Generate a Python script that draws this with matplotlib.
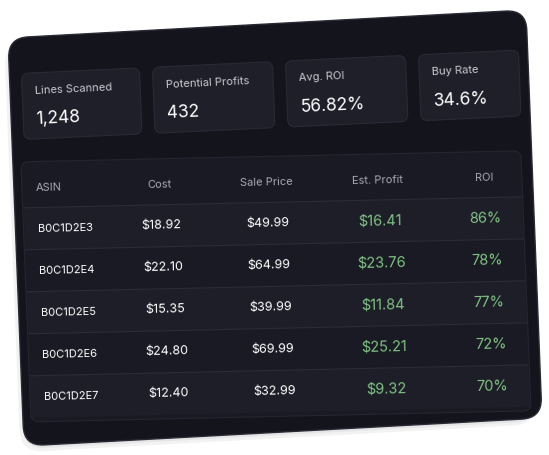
import matplotlib
matplotlib.use("Agg")
import matplotlib.pyplot as plt
import numpy as np
from matplotlib.patches import FancyBboxPatch
from matplotlib.transforms import Affine2D

stat_labels = ["Lines Scanned", "Potential Profits", "Avg. ROI", "Buy Rate"]
stat_values = ["1,248", "432", "56.82%", "34.6%"]
headers = ["ASIN", "Cost", "Sale Price", "Est. Profit", "ROI"]
asins = ["B0C1D2E3", "B0C1D2E4", "B0C1D2E5", "B0C1D2E6", "B0C1D2E7"]
costs = [18.92, 22.10, 15.35, 24.80, 12.40]
prices = [49.99, 64.99, 39.99, 69.99, 32.99]
profits = [16.41, 23.76, 11.84, 25.21, 9.32]
rois = [86, 78, 77, 72, 70]

fig = plt.figure(figsize=(5.49, 4.55), dpi=100)
ax = fig.add_axes([0, 0, 1, 1])
ax.set_xlim(0, 549); ax.set_ylim(455, 0); ax.axis("off")

TL = np.array([8, 38.]); TR = np.array([526, 10.]); BL = np.array([24, 446.])
W, H = 518.0, 408.0
ex0 = (TR - TL) / W; ey = (BL - TL) / H

def makeM(slope, anchor_y):
    M0 = np.array([[ex0[0], ey[0], TL[0]], [ex0[1], ey[1], TL[1]], [0, 0, 1]])
    ex = np.array([1.0, slope])
    target = M0[:2, :2] @ np.array([0, anchor_y]) + M0[:2, 2]
    A = np.array([[ex[0], ey[0]], [ex[1], ey[1]]])
    org = target - A @ np.array([0, anchor_y])
    return np.array([[A[0, 0], A[0, 1], org[0]], [A[1, 0], A[1, 1], org[1]], [0, 0, 1]])

Mcard = makeM(ex0[1], 0)
Mstat = makeM(-0.047, 70)
Mtab = makeM(-0.022, 250)

def box(M, x0, y0, x1, y1, fc, r=8, ec="none", lw=0, z=1, alpha=1):
    p = FancyBboxPatch((x0, y0), x1 - x0, y1 - y0, boxstyle=f"round,pad=0,rounding_size={r}",
                       fc=fc, ec=ec, lw=lw, transform=Affine2D(M) + ax.transData, zorder=z, alpha=alpha)
    ax.add_patch(p)

def txt(M, x, y, s, size, color, ha="left"):
    px, py = M[:2, :2] @ np.array([x, y]) + M[:2, 2]
    ang = np.degrees(np.arctan2(-M[1, 0], M[0, 0]))
    ax.text(px, py, s, fontsize=size, color=color, ha=ha, va="center",
            rotation=ang, rotation_mode="anchor", family="Inter", zorder=10)

for i, a in enumerate([0.05, 0.05, 0.06]):
    box(Mcard, -4 + 3 * i, 6 + 3 * i, W - 6, H + 6 - 3 * i, "#000000", r=22, z=0, alpha=a)
box(Mcard, 0, 0, W, H, "#14141d", r=20, ec="#2a2a36", lw=1, z=1)

xs = [(12, 130), (143, 263), (276, 396), (409, 509)]
for (x0, x1), lab, val in zip(xs, stat_labels, stat_values):
    box(Mstat, x0, 36, x1, 102, "#1f1f2a", r=7, ec="#2a2a36", lw=0.8, z=2)
    txt(Mstat, x0 + 13, 54, lab, 8, "#c8c8d0")
    txt(Mstat, x0 + 13, 83, val, 12.5, "#ffffff")

box(Mtab, 8, 124, 508, 384, "#1a1a24", r=8, ec="#262632", lw=0.8, z=2)
col_x = [22, 146, 252, 364, 470]
col_ha = ["left", "center", "center", "center", "center"]
for h, x, ha in zip(headers, col_x, col_ha):
    txt(Mtab, x, 150, h, 8, "#a8a8b4", ha=ha)
row_top = 170
rh = 42
for i in range(len(asins)):
    y0 = row_top + i * rh
    box(Mtab, 9, y0, 507, y0 + rh, "#1e1e29" if i % 2 == 0 else "#1a1a24", r=0.1, z=3)
    ax.plot([9, 507], [y0, y0], color="#2c2c38", lw=0.8, transform=Affine2D(Mtab) + ax.transData, zorder=4)
    yc = y0 + rh / 2
    txt(Mtab, col_x[0], yc, asins[i], 8, "#ffffff")
    txt(Mtab, col_x[1], yc, f"${costs[i]:.2f}", 9, "#ffffff", ha="center")
    txt(Mtab, col_x[2], yc, f"${prices[i]:.2f}", 9, "#ffffff", ha="center")
    txt(Mtab, col_x[3], yc, f"${profits[i]:.2f}", 10.5, "#7cc47f", ha="center")
    txt(Mtab, col_x[4], yc, f"{rois[i]}%", 10.5, "#7cc47f", ha="center")

fig.savefig("out.png", dpi=100, facecolor="white")
